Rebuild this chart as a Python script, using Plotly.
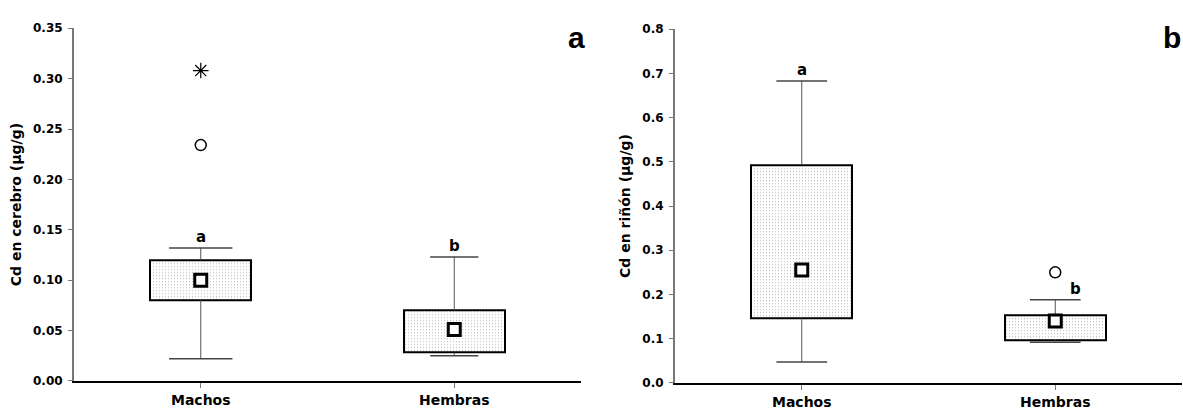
import plotly.graph_objects as go
from plotly.subplots import make_subplots

# Cadmium concentrations (µg/g) by sex — summary statistics per group
categories = ["Machos", "Hembras"]

cerebro_q1 = [0.080, 0.028]
cerebro_q3 = [0.120, 0.070]
cerebro_min = [0.022, 0.025]
cerebro_max = [0.132, 0.123]
cerebro_center = [0.100, 0.051]
cerebro_outlier_x = ["Machos"]
cerebro_outlier_y = [0.234]
cerebro_extreme_x = ["Machos"]
cerebro_extreme_y = [0.308]
cerebro_letters = ["a", "b"]

rinon_q1 = [0.147, 0.097]
rinon_q3 = [0.493, 0.154]
rinon_min = [0.047, 0.092]
rinon_max = [0.683, 0.188]
rinon_center = [0.255, 0.140]
rinon_outlier_x = ["Hembras"]
rinon_outlier_y = [0.250]
rinon_extreme_x = []
rinon_extreme_y = []
rinon_letters = ["a", "b"]

FONT = "DejaVu Sans"
BOX_W = 0.40

fig = make_subplots(rows=1, cols=2)

pos = {c: i for i, c in enumerate(categories)}


def add_panel(col, q1, q3, lo, hi, center, ox, oy, ex, ey, cap_w):
    xs = list(range(len(categories)))
    # whiskers
    wx, wy = [], []
    for i in xs:
        wx += [i, i, None, i, i, None]
        wy += [q3[i], hi[i], None, lo[i], q1[i], None]
    fig.add_trace(go.Scatter(x=wx, y=wy, mode="lines",
                             line=dict(color="#555555", width=1),
                             hoverinfo="skip", showlegend=False), row=1, col=col)
    # whisker caps
    cx, cy = [], []
    for i in xs:
        h = cap_w[i] / 2
        cx += [i - h, i + h, None, i - h, i + h, None]
        cy += [hi[i], hi[i], None, lo[i], lo[i], None]
    fig.add_trace(go.Scatter(x=cx, y=cy, mode="lines",
                             line=dict(color="#444444", width=1.5),
                             hoverinfo="skip", showlegend=False), row=1, col=col)
    # dotted boxes (q1..q3)
    fig.add_trace(go.Bar(x=xs, y=[q3[i] - q1[i] for i in xs], base=q1, width=BOX_W,
                         marker=dict(color="white",
                                     line=dict(color="black", width=2),
                                     pattern=dict(shape=".", fgcolor="#5a5a5a",
                                                  bgcolor="white", size=3,
                                                  solidity=0.12)),
                         hoverinfo="skip", showlegend=False), row=1, col=col)
    # central square marker
    fig.add_trace(go.Scatter(x=xs, y=center, mode="markers",
                             marker=dict(symbol="square", size=12, color="white",
                                         line=dict(color="black", width=3)),
                             showlegend=False), row=1, col=col)
    # outliers
    if ox:
        fig.add_trace(go.Scatter(x=[pos[c] for c in ox], y=oy, mode="markers",
                                 marker=dict(symbol="circle-open", size=11, color="black",
                                             line=dict(width=1.5)),
                                 showlegend=False), row=1, col=col)
    if ex:
        fig.add_trace(go.Scatter(x=[pos[c] for c in ex], y=ey, mode="markers",
                                 marker=dict(symbol="asterisk-open", size=13, color="black",
                                             line=dict(width=1.2, color="black")),
                                 showlegend=False), row=1, col=col)


add_panel(1, cerebro_q1, cerebro_q3, cerebro_min, cerebro_max, cerebro_center,
          cerebro_outlier_x, cerebro_outlier_y, cerebro_extreme_x, cerebro_extreme_y,
          cap_w=[0.25, 0.19])
add_panel(2, rinon_q1, rinon_q3, rinon_min, rinon_max, rinon_center,
          rinon_outlier_x, rinon_outlier_y, rinon_extreme_x, rinon_extreme_y,
          cap_w=[0.20, 0.20])

# group letters over the whiskers
letter_font = dict(family=FONT, size=15, color="black")
for i, t in enumerate(cerebro_letters):
    fig.add_annotation(x=i, y=cerebro_max[i], text=f"<b>{t}</b>", showarrow=False,
                       yanchor="bottom", yshift=0, font=letter_font, xref="x", yref="y")
fig.add_annotation(x=0, y=rinon_max[0], text=f"<b>{rinon_letters[0]}</b>", showarrow=False,
                   yanchor="bottom", yshift=0, font=letter_font, xref="x2", yref="y2")
fig.add_annotation(x=1, y=rinon_max[1], text=f"<b>{rinon_letters[1]}</b>", showarrow=False,
                   yanchor="bottom", xanchor="left", xshift=13, yshift=0,
                   font=letter_font, xref="x2", yref="y2")

# panel letters
panel_font = dict(family="Liberation Sans, Arial", size=30, color="black")
fig.add_annotation(x=566 / 1183, y=1 - 12 / 413, xref="paper", yref="paper",
                   text="<b>a</b>", showarrow=False, xanchor="left", yanchor="top",
                   font=panel_font)
fig.add_annotation(x=1.0, y=1 - 12 / 413, xref="paper", yref="paper",
                   text="<b>b</b>", showarrow=False, xanchor="right", yanchor="top",
                   font=panel_font)

tick_font = dict(family=FONT, size=12, color="black")
common_x = dict(range=[-0.5, 1.5], tickvals=[0, 1], ticktext=[f"<b>{c}</b>" for c in categories],
                showline=True, linecolor="black", linewidth=2, ticks="outside",
                ticklen=5, tickcolor="#777777", showgrid=False, zeroline=False,
                tickfont=dict(family=FONT, size=14, color="black"))
common_y = dict(showline=True, linecolor="#777777", linewidth=2, ticks="outside",
                ticklen=4, tickcolor="#777777", showgrid=False, zeroline=False,
                tickfont=tick_font, ticklabelstandoff=3)

fig.update_xaxes(**common_x, domain=[74 / 1183, 581 / 1183], row=1, col=1)
fig.update_xaxes(**common_x, domain=[675 / 1183, 1182 / 1183], row=1, col=2)
fig.update_yaxes(**common_y, range=[0, 0.35], dtick=0.05, tickformat=".2f",
                 tickprefix="<b>", ticksuffix="</b>",
                 title=dict(text="<b>Cd en cerebro (µg/g)</b>", standoff=8,
                            font=dict(family=FONT, size=14, color="black")),
                 row=1, col=1)
fig.update_yaxes(**common_y, range=[0, 0.8], dtick=0.1, tickformat=".1f",
                 tickprefix="<b>", ticksuffix="</b>",
                 title=dict(text="<b>Cd en riñón (µg/g)</b>", standoff=8,
                            font=dict(family=FONT, size=14, color="black")),
                 row=1, col=2)
fig.layout.yaxis.domain = [1 - 387 / 413, 1 - 22 / 413]
fig.layout.yaxis2.domain = [1 - 389 / 413, 1 - 23 / 413]

fig.update_layout(width=1183, height=413, margin=dict(l=0, r=0, t=0, b=0),
                  plot_bgcolor="white", paper_bgcolor="white",
                  barmode="overlay", bargap=0, showlegend=False)

fig.write_html("out.html")
